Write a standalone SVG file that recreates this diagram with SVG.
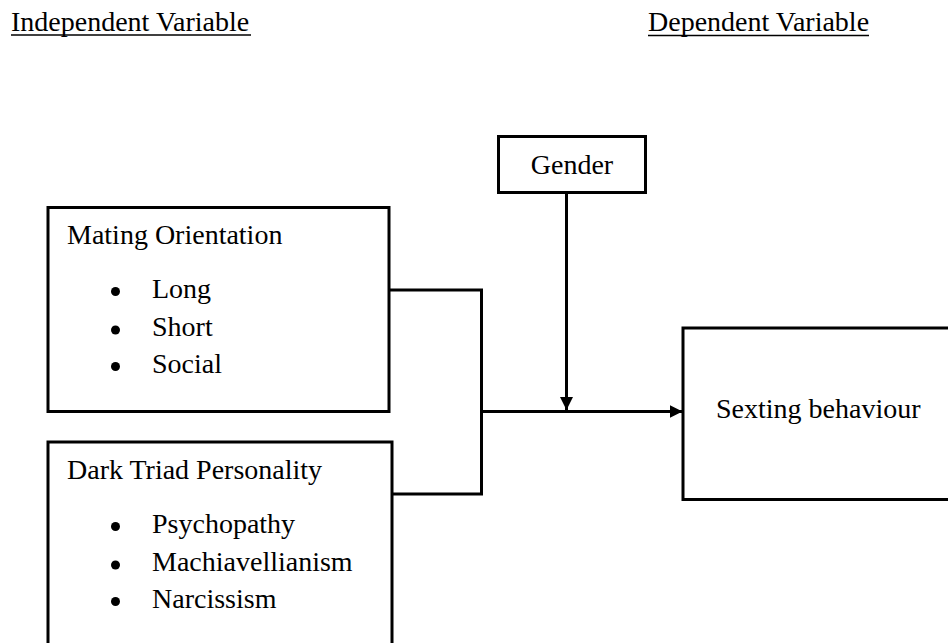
<svg xmlns="http://www.w3.org/2000/svg" width="948" height="643" viewBox="0 0 948 643">
<defs>
<style>
text{font-family:"Liberation Serif","Times New Roman",serif;font-size:28px;fill:#000}
.box{fill:#fff;stroke:#000;stroke-width:3}
.ln{fill:none;stroke:#000;stroke-width:3}
.ul{stroke:#000;stroke-width:1.5}
</style>
<marker id="ah" markerUnits="userSpaceOnUse" viewBox="0 0 13 13" refX="13" refY="6.5" markerWidth="13" markerHeight="13" orient="auto">
<path d="M0,0 L13,6.5 L0,13 Z" fill="#000"/>
</marker>
</defs>
<rect width="948" height="643" fill="#fff"/>
<g id="header-iv">
<text x="11" y="30.5">Independent Variable</text>
<line class="ul" x1="11" y1="35" x2="251" y2="35"/>
</g>
<g id="header-dv">
<text x="648" y="30.5">Dependent Variable</text>
<line class="ul" x1="648" y1="35.5" x2="869" y2="35.5"/>
</g>
<g id="connectors">
<polyline class="ln" points="389,290 481.5,290 481.5,494 392,494"/>
<line class="ln" x1="481.5" y1="411.5" x2="682.5" y2="411.5" marker-end="url(#ah)"/>
<line class="ln" x1="566.5" y1="193" x2="566.5" y2="410" marker-end="url(#ah)"/>
</g>
<g id="mating">
<rect class="box" x="48" y="207.5" width="341" height="204"/>
<text x="67" y="243.5">Mating Orientation</text>
<circle cx="115.5" cy="291.5" r="4.5"/>
<text x="152" y="298">Long</text>
<circle cx="115.5" cy="330" r="4.5"/>
<text x="152" y="336">Short</text>
<circle cx="115.5" cy="366.5" r="4.5"/>
<text x="152" y="373">Social</text>
</g>
<g id="darktriad">
<rect class="box" x="48" y="442" width="344" height="220"/>
<text x="67" y="478.5">Dark Triad Personality</text>
<circle cx="115.5" cy="526.5" r="4.5"/>
<text x="152" y="533">Psychopathy</text>
<circle cx="115.5" cy="565" r="4.5"/>
<text x="152" y="571">Machiavellianism</text>
<circle cx="115.5" cy="601.5" r="4.5"/>
<text x="152" y="608">Narcissism</text>
</g>
<g id="gender">
<rect class="box" x="498.5" y="136.5" width="147" height="56"/>
<text x="572" y="173.5" text-anchor="middle">Gender</text>
</g>
<g id="sexting">
<rect class="box" x="683" y="328" width="280" height="171.5"/>
<text x="716" y="417.5">Sexting behaviour</text>
</g>
</svg>
